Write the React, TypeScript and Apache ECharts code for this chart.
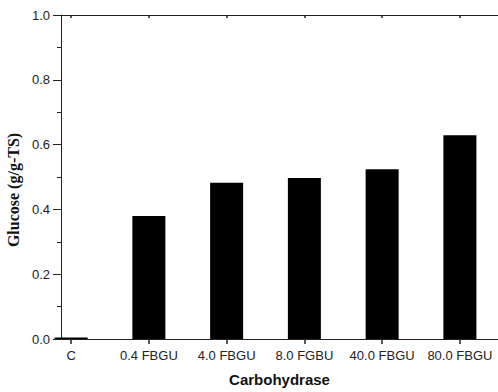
import React, { useEffect, useRef } from "react";
import * as echarts from "echarts";

// Enzyme dose groups and the measured glucose yield for each
const categories = ["C", "0.4 FBGU", "4.0 FBGU", "8.0 FGBU", "40.0 FBGU", "80.0 FBGU"];
const glucose = [0.005, 0.38, 0.482, 0.497, 0.524, 0.629];

const positions = categories.map((_, i) => i);
const AXIS = "#222";
const SANS = "'Liberation Sans', Arial, sans-serif";
const SERIF = "'Liberation Serif', 'Times New Roman', serif";

export default function App() {
  const ref = useRef<HTMLDivElement>(null);

  useEffect(() => {
    if (!ref.current) return;
    const chart = echarts.init(ref.current, undefined, { renderer: "svg" });
    chart.setOption({
      animation: false,
      backgroundColor: "#fff",
      grid: { left: 61, top: 15, right: 0, bottom: 51, containLabel: false },
      xAxis: [
        {
          type: "value",
          position: "bottom",
          min: -0.13,
          max: 5.49,
          splitLine: { show: false },
          axisLine: { show: true, onZero: false, lineStyle: { color: AXIS, width: 1 } },
          axisTick: {
            show: true,
            inside: false,
            length: 5,
            customValues: positions,
            lineStyle: { color: AXIS, width: 1.5 },
          },
          axisLabel: {
            customValues: positions,
            formatter: (v: number) => categories[Math.round(v)] ?? "",
            margin: 10,
            fontSize: 13,
            fontFamily: SANS,
            color: "#222",
          },
          name: "Carbohydrase",
          nameLocation: "middle",
          nameGap: 33,
          nameTextStyle: { fontSize: 15, fontWeight: "bold", fontFamily: SANS, color: "#111" },
        },
        {
          type: "value",
          position: "top",
          min: -0.13,
          max: 5.49,
          splitLine: { show: false },
          axisLine: { show: true, onZero: false, lineStyle: { color: AXIS, width: 1 } },
          axisTick: {
            show: true,
            inside: true,
            length: 3,
            customValues: positions,
            lineStyle: { color: AXIS, width: 1.5 },
          },
          axisLabel: { show: false },
        },
      ],
      yAxis: {
        type: "value",
        min: 0,
        max: 1,
        interval: 0.2,
        splitLine: { show: false },
        axisLine: { show: true, onZero: false, lineStyle: { color: AXIS, width: 1 } },
        axisTick: { show: true, inside: false, length: 8, lineStyle: { color: AXIS, width: 1 } },
        minorTick: { show: true, splitNumber: 2, length: 4, lineStyle: { color: AXIS, width: 1 } },
        axisLabel: {
          formatter: (v: number) => v.toFixed(1),
          margin: 11,
          fontSize: 13,
          fontFamily: SANS,
          color: "#222",
        },
      },
      graphic: [
        {
          type: "text",
          x: 13,
          y: 190,
          rotation: Math.PI / 2,
          style: {
            text: "Glucose (g/g-TS)",
            fontSize: 16,
            fontWeight: "bold",
            fontFamily: SERIF,
            fill: "#111",
            align: "center",
            verticalAlign: "middle",
          },
        },
      ],
      series: [
        {
          type: "bar",
          xAxisIndex: 0,
          barWidth: 33,
          clip: true,
          itemStyle: { color: "#000" },
          data: glucose.map((v, i) => [positions[i], v]),
        },
      ],
    });
    return () => chart.dispose();
  }, []);

  return (
    <div
      ref={ref}
      style={{ position: "fixed", left: 0, top: 0, width: 498, height: 392 }}
    />
  );
}
